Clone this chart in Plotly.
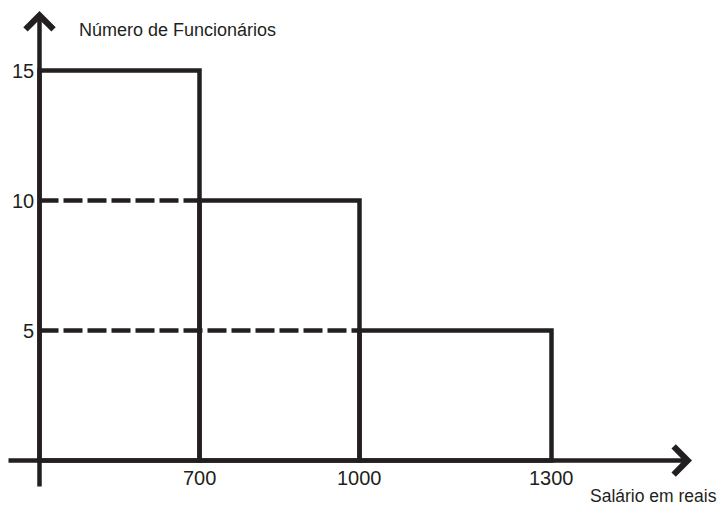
import plotly.graph_objects as go

# ---- data ----
salary_edges = [0, 700, 1000, 1300]        # bin edges (Salário em reais)
employee_counts = [15, 10, 5]              # Número de Funcionários per bin
y_ticks = [5, 10, 15]
x_title = "Salário em reais"
y_title = "Número de Funcionários"

# ---- layout / style (schematic axis: edge positions in slot units) ----
edge_slots = [0, 1, 2, 3.2]
INK = "#231f20"
LW = 4.5
FONT = "Liberation Sans, Arial, sans-serif"
W, H = 721, 506
PX_X = 160.0   # px per slot
PX_Y = 26.0    # px per count unit
X0_PX, Y0_PX = 39.5, 460.5

x_range = [-X0_PX / PX_X, (W - X0_PX) / PX_X]
y_range = [-(H - Y0_PX) / PX_Y, Y0_PX / PX_Y]

fig = go.Figure()

# histogram bars (outline only)
centers = [(edge_slots[i] + edge_slots[i + 1]) / 2 for i in range(len(employee_counts))]
widths = [edge_slots[i + 1] - edge_slots[i] for i in range(len(employee_counts))]
fig.add_trace(go.Bar(
    x=centers, y=employee_counts, width=widths, base=0,
    marker=dict(color="rgba(0,0,0,0)", line=dict(color=INK, width=LW)),
    showlegend=False, hoverinfo="skip",
))

# dashed reference lines from the y axis to each bar's left edge
for i in range(1, len(employee_counts)):
    fig.add_trace(go.Scatter(
        x=[0, edge_slots[i]], y=[employee_counts[i], employee_counts[i]],
        mode="lines", line=dict(color=INK, width=LW, dash="19px,5px"),
        showlegend=False, hoverinfo="skip",
    ))

annotations = []
# x axis with arrow
annotations.append(dict(
    x=(692 - X0_PX) / PX_X, y=0, ax=-32.5 / PX_X, ay=0,
    xref="x", yref="y", axref="x", ayref="y", text="", showarrow=True,
    arrowhead=4, arrowsize=1.2, arrowwidth=LW, arrowcolor=INK,
))
# y axis with arrow
annotations.append(dict(
    x=0, y=(Y0_PX - 11) / PX_Y, ax=0, ay=-27.5 / PX_Y,
    xref="x", yref="y", axref="x", ayref="y", text="", showarrow=True,
    arrowhead=4, arrowsize=1.2, arrowwidth=LW, arrowcolor=INK,
))

# x tick labels
for s, v in zip(edge_slots[1:], salary_edges[1:]):
    annotations.append(dict(
        x=s, y=0, xref="x", yref="y", text=str(v), showarrow=False,
        xanchor="center", yanchor="middle", yshift=-17,
        font=dict(family=FONT, size=20, color=INK),
    ))
# y tick labels
for v in y_ticks:
    annotations.append(dict(
        x=0, y=v, xref="x", yref="y", text=str(v), showarrow=False,
        xanchor="right", yanchor="middle", xshift=-4,
        font=dict(family=FONT, size=20, color=INK),
    ))
# axis titles
annotations.append(dict(
    x=77 / W, y=1 - 30 / H, xref="paper", yref="paper", text=y_title,
    showarrow=False, xanchor="left", yanchor="middle",
    font=dict(family=FONT, size=18, color=INK),
))
annotations.append(dict(
    x=719 / W, y=1 - 496 / H, xref="paper", yref="paper", text=x_title,
    showarrow=False, xanchor="right", yanchor="middle",
    font=dict(family=FONT, size=17.5, color=INK),
))

fig.update_layout(
    width=W, height=H,
    margin=dict(l=0, r=0, t=0, b=0),
    paper_bgcolor="white", plot_bgcolor="white",
    xaxis=dict(range=x_range, visible=False, fixedrange=True),
    yaxis=dict(range=y_range, visible=False, fixedrange=True),
    annotations=annotations,
    barmode="overlay",
)

fig.write_html(
    "out.html",
    config={"displayModeBar": False},
    post_script="document.body.style.margin='0';document.body.style.overflow='hidden';",
)
